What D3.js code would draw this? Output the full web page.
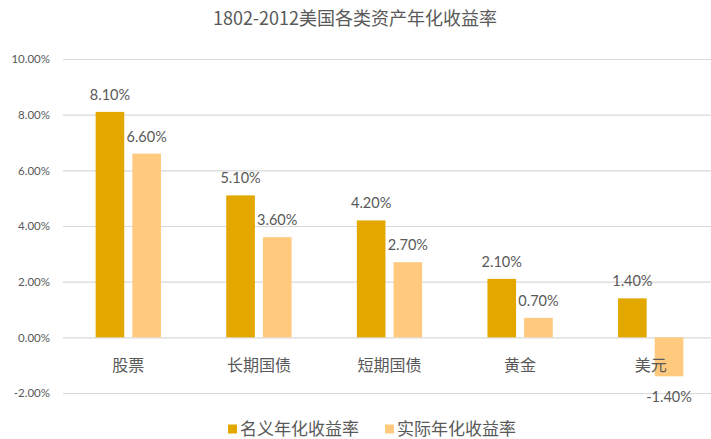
<!DOCTYPE html>
<html>
  <head>
    <meta charset="utf-8">
    <title>1802-2012美国各类资产年化收益率</title>
    <script src="https://unpkg.com/d3@7/dist/d3.min.js"></script>
    <style>
      body { margin: 0; background: #fff; }
      text { font-family: "Noto Sans CJK SC", Lato, sans-serif; fill: #595959; }
    </style>
  </head>
  <body>
    <svg width="711" height="439"></svg>
    <script>

      const categories = ["股票", "长期国债", "短期国债", "黄金", "美元"];
      const seriesNames = ["名义年化收益率", "实际年化收益率"];
      const nominal = [8.1, 5.1, 4.2, 2.1, 1.4];
      const real = [6.6, 3.6, 2.7, 0.7, -1.4];
      const yTicks = [-2, 0, 2, 4, 6, 8, 10];

      const colors = d3.scaleOrdinal()
              .domain(seriesNames)
              .range(["#e2a800", "#ffca7e"]);

      const svg = d3.select("svg");

      const rows = categories.map((c, i) => ({
        cat: c,
        values: [
          { key: seriesNames[0], value: nominal[i] },
          { key: seriesNames[1], value: real[i] }
        ]
      }));

      const x0 = d3.scaleBand()
              .domain(categories)
              .range([63, 716])
              .paddingInner(0.5)
              .paddingOuter(0.25);

      const x1 = d3.scaleBand()
              .domain(seriesNames)
              .range([0, x0.bandwidth()])
              .paddingInner(0.22);

      const y = d3.scaleLinear()
              .domain([-2, 10])
              .range([393, 59]);

      // gridlines + tick labels
      const yAxis = svg.append("g")
              .attr("transform", "translate(63,0)")
              .call(d3.axisLeft(y)
                .tickValues(yTicks)
                .tickSize(-660)
                .tickPadding(13)
                .tickFormat(d => d.toFixed(2) + "%"));
      yAxis.select(".domain").remove();
      yAxis.selectAll("line").attr("stroke", "#d9d9d9").attr("stroke-width", 1.2);
      yAxis.selectAll("text")
           .style("font-family", "Lato, sans-serif")
           .style("font-size", "11.5px")
           .attr("fill", "#595959");

      // bars
      const groups = svg.append("g").selectAll("g")
              .data(rows)
              .join("g")
                .attr("transform", d => `translate(${x0(d.cat)},0)`);

      groups.selectAll("rect")
            .data(d => d.values)
            .join("rect")
              .attr("x", d => x1(d.key))
              .attr("width", x1.bandwidth())
              .attr("y", d => y(Math.max(0, d.value)))
              .attr("height", d => Math.abs(y(d.value) - y(0)))
              .attr("fill", d => colors(d.key));

      groups.selectAll("text.val")
            .data(d => d.values)
            .join("text")
              .attr("class", "val")
              .attr("x", d => x1(d.key) + x1.bandwidth() / 2)
              .attr("y", d => d.value >= 0 ? y(d.value) - 12 : y(d.value) + 26)
              .attr("text-anchor", "middle")
              .style("font-family", "Lato, sans-serif")
              .style("font-size", "14.5px")
              .text(d => d.value.toFixed(2) + "%");

      // category labels
      svg.append("g").selectAll("text")
         .data(categories)
         .join("text")
           .attr("x", d => x0(d) + x0.bandwidth() / 2)
           .attr("y", 371)
           .attr("text-anchor", "middle")
           .style("font-size", "16px")
           .text(d => d);

      // title
      svg.append("text")
         .attr("x", 355)
         .attr("y", 25)
         .attr("text-anchor", "middle")
         .style("font-size", "18px")
         .text("1802-2012美国各类资产年化收益率");

      // legend
      const legendX = [228, 385];
      const legend = svg.append("g").selectAll("g")
              .data(seriesNames)
              .join("g")
                .attr("transform", (d, i) => `translate(${legendX[i]},429)`);
      legend.append("rect")
            .attr("x", 0).attr("y", -4.5)
            .attr("width", 9).attr("height", 9)
            .attr("fill", d => colors(d));
      legend.append("text")
            .attr("x", 12)
            .attr("y", 6)
            .style("font-size", "17px")
            .text(d => d);

    </script>
  </body>
</html>
